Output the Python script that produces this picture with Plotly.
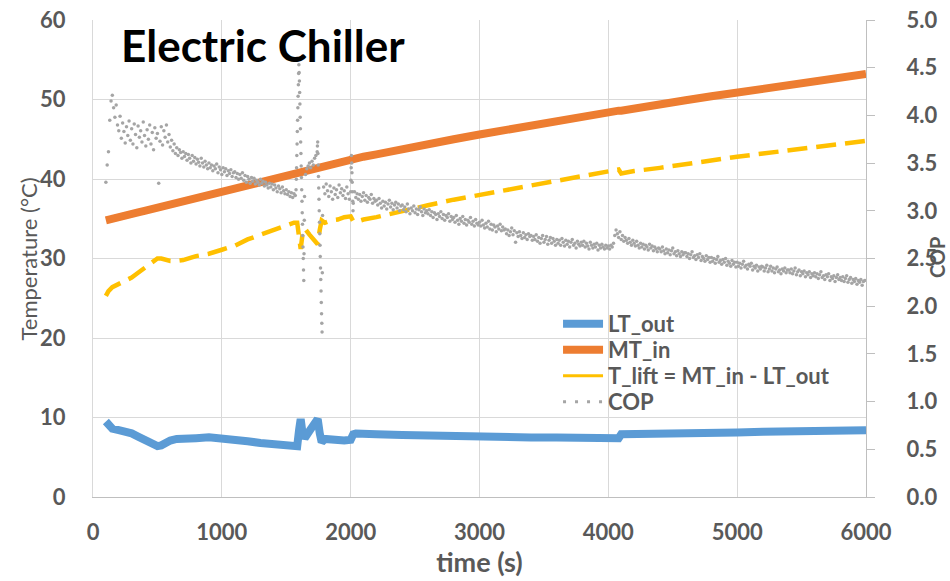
import plotly.graph_objects as go

# ---------------- temperature logs (time in s, temperature in °C) ----------------
t_temp = [100, 120, 150, 200, 250, 300, 350, 400, 450, 500,
          530, 560, 600, 650, 700, 800, 900, 1000,
          1100, 1200, 1300, 1400, 1500, 1560, 1585, 1600, 1612, 1625,
          1643, 1680, 1720, 1744, 1760, 1775,
          1800, 1850, 1900, 1950, 2000, 2020, 2040, 2100, 2200, 2400,
          2600, 2800, 3000, 3200, 3400, 3600, 3800, 4000, 4080, 4100,
          4200, 4400, 4600, 4800, 5000, 5200, 5400, 5600, 5800, 6000]

mt_in = [34.8, 34.9, 35.0, 35.2, 35.4, 35.6, 35.8, 36.0, 36.2, 36.4,
         36.5, 36.7, 36.8, 37.0, 37.2, 37.7, 38.1, 38.5,
         38.9, 39.4, 39.8, 40.2, 40.6, 40.8, 40.9, 41.0, 41.0, 41.1,
         41.2, 41.3, 41.5, 41.6, 41.6, 41.7,
         41.8, 42.0, 42.1, 42.3, 42.5, 42.6, 42.6, 42.8, 43.1, 43.8,
         44.4, 45.0, 45.6, 46.2, 46.7, 47.3, 47.8, 48.4, 48.6, 48.6,
         48.9, 49.4, 49.9, 50.4, 50.9, 51.4, 51.8, 52.3, 52.7, 53.2]

lt_out = [9.5, 9.0, 8.6, 8.4, 8.3, 8.0, 7.6, 7.2, 6.8, 6.4,
          6.5, 6.8, 7.1, 7.3, 7.4, 7.4, 7.5, 7.4,
          7.3, 7.0, 6.8, 6.6, 6.4, 6.3, 6.4, 8.5, 9.8, 8.2,
          7.4, 8.3, 9.3, 9.8, 8.0, 6.9,
          7.3, 7.2, 7.2, 7.1, 7.2, 7.9, 8.0, 7.9, 7.9, 7.8,
          7.7, 7.6, 7.6, 7.6, 7.5, 7.5, 7.4, 7.4, 7.4, 7.9,
          7.9, 8.0, 8.0, 8.1, 8.1, 8.2, 8.2, 8.3, 8.3, 8.4]

# temperature lift between the two circuits
t_lift = [round(m - l, 2) for m, l in zip(mt_in, lt_out)]

# ---------------- COP samples ----------------
cop_a = [  # 100 .. 1570 s, every 10 s
    3.30, 3.48, 3.62, 3.95, 4.15, 4.21, 4.08, 3.98, 4.11, 3.90, 3.84, 3.99, 3.76, 3.92, 3.83, 3.71, 3.88, 3.79, 3.94, 3.74,
    3.86, 3.70, 3.91, 3.80, 3.66, 3.89, 3.77, 3.84, 3.72, 3.93, 3.79, 3.68, 3.85, 3.75, 3.90, 3.70, 3.82, 3.64, 3.87, 3.76,
    3.81, 3.29, 3.73, 3.88, 3.69, 3.84, 3.77, 3.90, 3.72, 3.80, 3.67, 3.74, 3.63, 3.70, 3.60, 3.66, 3.58, 3.64, 3.61, 3.55,
    3.62, 3.57, 3.60, 3.53, 3.59, 3.55, 3.50, 3.58, 3.52, 3.56, 3.49, 3.54, 3.51, 3.47, 3.55, 3.50, 3.46, 3.52, 3.48, 3.44,
    3.50, 3.45, 3.48, 3.42, 3.47, 3.44, 3.49, 3.40, 3.46, 3.43, 3.38, 3.45, 3.41, 3.44, 3.37, 3.42, 3.39, 3.43, 3.36, 3.40,
    3.41, 3.35, 3.39, 3.33, 3.38, 3.34, 3.40, 3.32, 3.37, 3.30, 3.36, 3.33, 3.29, 3.35, 3.31, 3.34, 3.28, 3.32, 3.30, 3.27,
    3.33, 3.29, 3.31, 3.26, 3.30, 3.27, 3.24, 3.29, 3.25, 3.28, 3.22, 3.27, 3.24, 3.20, 3.26, 3.23, 3.19, 3.25, 3.21, 3.18,
    3.22, 3.17, 3.20, 3.15, 3.19, 3.14, 3.18, 3.16,
]
cop_spike1 = [  # 1576 .. 1642 s, every 2 s
    3.22, 3.33, 3.45, 3.58, 3.70, 3.83, 3.95, 4.08, 4.20, 4.32, 4.44, 4.53,
    4.45, 4.36, 4.24, 4.12, 3.98, 3.86, 3.72, 3.60, 3.47, 3.35, 3.22, 3.10, 2.98, 2.86, 2.74, 2.62, 2.50, 2.38, 2.27,
    2.55, 2.90, 3.15,
]
cop_b = [  # 1650 .. 1740 s, every 10 s
    3.38, 3.44, 3.47, 3.50, 3.45, 3.52, 3.48, 3.55, 3.58, 3.62,
]
cop_spike2 = [  # 1742 .. 1782 s, every 2 s
    3.68, 3.72,
    3.60, 3.48, 3.36, 3.24, 3.12, 3.00, 2.88, 2.76, 2.64, 2.52, 2.40, 2.28, 2.16, 2.04, 1.92, 1.82, 1.73,
    2.35, 2.95,
]
cop_c = [  # 1790 .. 1990 s, every 10 s
    3.25, 3.18, 3.28, 3.21, 3.15, 3.26, 3.20, 3.12, 3.24, 3.17, 3.22, 3.14, 3.27, 3.19, 3.23, 3.16, 3.21, 3.13, 3.25, 3.18,
    3.12,
]
cop_spike3 = [  # 2000 .. 2020 s, every 2 s
    3.20, 3.32, 3.45, 3.58, 3.50, 3.40, 3.30, 3.20, 3.10, 3.00, 3.08,
]
cop_d = [  # 2030 .. 5990 s, every 10 s
    3.20, 3.14, 3.18, 3.12, 3.17, 3.10, 3.15, 3.19, 3.11, 3.16, 3.09, 3.14, 3.12, 3.17, 3.08, 3.13, 3.10,
    3.11, 3.06, 3.13, 3.08, 3.03, 3.10, 3.05, 3.09, 3.02, 3.07, 3.11, 3.04, 3.08, 3.01, 3.06, 3.09, 3.03, 3.07, 3.00, 3.05,
    3.06, 3.01, 3.04, 2.99, 3.07, 3.02, 2.97, 3.03, 3.00, 3.05, 2.98, 3.02, 2.96, 3.01, 3.04, 2.99, 2.95, 3.02, 2.98, 3.00,
    2.97, 3.01, 2.95, 2.99, 2.93, 2.98, 2.96, 2.91, 2.97, 2.94, 2.99, 2.92, 2.96, 2.90, 2.95, 2.93, 2.97, 2.89, 2.94, 2.91,
    2.93, 2.88, 2.95, 2.90, 2.86, 2.92, 2.89, 2.94, 2.87, 2.91, 2.85, 2.90, 2.88, 2.93, 2.86, 2.89, 2.84, 2.91, 2.87, 2.85,
    2.88, 2.84, 2.90, 2.85, 2.82, 2.87, 2.83, 2.89, 2.81, 2.86, 2.80, 2.85, 2.83, 2.78, 2.84, 2.81, 2.86, 2.79, 2.83, 2.80,
    2.81, 2.76, 2.80, 2.74, 2.78, 2.82, 2.75, 2.79, 2.67, 2.77, 2.73, 2.78, 2.74, 2.71, 2.77, 2.72, 2.75, 2.70, 2.76, 2.73,
    2.74, 2.69, 2.73, 2.70, 2.75, 2.68, 2.72, 2.66, 2.71, 2.74, 2.67, 2.70, 2.73, 2.65, 2.69, 2.72, 2.66, 2.71, 2.68, 2.64,
    2.70, 2.66, 2.69, 2.64, 2.71, 2.67, 2.63, 2.69, 2.65, 2.68, 2.62, 2.67, 2.70, 2.64, 2.66, 2.61, 2.68, 2.65, 2.63, 2.67,
    2.64, 2.68, 2.62, 2.66, 2.63, 2.60, 2.67, 2.64, 2.61, 2.65, 2.62, 2.66, 2.59, 2.64, 2.61, 2.65, 2.62, 2.60, 2.64, 2.61,
    2.63, 2.60, 2.64, 2.62, 2.66, 2.74, 2.80, 2.76, 2.72, 2.78, 2.70, 2.74, 2.68, 2.72, 2.69, 2.66, 2.71, 2.67, 2.64, 2.69,
    2.66, 2.63, 2.68, 2.64, 2.61, 2.66, 2.62, 2.65, 2.60, 2.64, 2.62, 2.59, 2.65, 2.61, 2.63, 2.58, 2.62, 2.60, 2.57, 2.61,
    2.60, 2.57, 2.62, 2.58, 2.55, 2.60, 2.56, 2.59, 2.54, 2.58, 2.61, 2.55, 2.57, 2.53, 2.58, 2.55, 2.52, 2.57, 2.54, 2.56,
    2.56, 2.52, 2.55, 2.50, 2.54, 2.57, 2.51, 2.53, 2.49, 2.54, 2.51, 2.55, 2.48, 2.52, 2.50, 2.47, 2.53, 2.49, 2.51, 2.46,
    2.51, 2.47, 2.50, 2.45, 2.49, 2.52, 2.46, 2.48, 2.44, 2.49, 2.46, 2.50, 2.43, 2.47, 2.45, 2.42, 2.48, 2.44, 2.46, 2.41,
    2.46, 2.42, 2.45, 2.40, 2.44, 2.47, 2.41, 2.43, 2.39, 2.44, 2.42, 2.45, 2.38, 2.42, 2.40, 2.43, 2.37, 2.41, 2.39, 2.42,
    2.41, 2.37, 2.40, 2.43, 2.36, 2.39, 2.42, 2.37, 2.40, 2.35, 2.39, 2.41, 2.36, 2.38, 2.34, 2.39, 2.37, 2.40, 2.35, 2.38,
    2.38, 2.35, 2.39, 2.34, 2.37, 2.40, 2.33, 2.36, 2.38, 2.32, 2.36, 2.34, 2.37, 2.31, 2.35, 2.33, 2.36, 2.30, 2.34, 2.32,
    2.35, 2.31, 2.34, 2.29, 2.33, 2.36, 2.30, 2.32, 2.28, 2.33, 2.31, 2.34, 2.27, 2.31, 2.29, 2.32, 2.26, 2.30, 2.33, 2.28,
    2.30, 2.27, 2.31, 2.26, 2.29, 2.32, 2.25, 2.28, 2.30, 2.24, 2.28, 2.26, 2.29, 2.23, 2.27, 2.25, 2.28, 2.22, 2.26, 2.27,
]

cop_blocks = [
    (range(100, 1571, 10), cop_a),
    (range(1576, 1643, 2), cop_spike1),
    (range(1650, 1741, 10), cop_b),
    (range(1742, 1783, 2), cop_spike2),
    (range(1790, 1991, 10), cop_c),
    (range(2000, 2021, 2), cop_spike3),
    (range(2030, 5991, 10), cop_d),
]
cop_t, cop_v = [], []
for times, vals in cop_blocks:
    if len(times) != len(vals):
        raise ValueError(f"COP block starting at {times[0]} s: {len(times)} times, {len(vals)} values")
    cop_t.extend(times)
    cop_v.extend(vals)

# ---------------- axis ticks ----------------
time_ticks = [0, 1000, 2000, 3000, 4000, 5000, 6000]
temp_ticks = [0, 10, 20, 30, 40, 50, 60]
cop_ticks = [0.0, 0.5, 1.0, 1.5, 2.0, 2.5, 3.0, 3.5, 4.0, 4.5, 5.0]

BLUE = "#5B9BD5"
ORANGE = "#ED7D31"
GOLD = "#FFC000"
GREY = "#A5A5A5"
TXT = "#595959"
GRID = "#D9D9D9"
AXIS = "#BFBFBF"
FONT = "Lato"

TICK_FONT = dict(family=FONT, size=22, color=TXT, weight="bold")
LEGEND_FONT = dict(family=FONT, size=22, color=TXT, weight="bold")

fig = go.Figure()

fig.add_trace(go.Scatter(
    x=t_temp, y=lt_out, name="LT_out", mode="lines",
    line=dict(color=BLUE, width=8), legend="legend",
))
fig.add_trace(go.Scatter(
    x=t_temp, y=mt_in, name="MT_in", mode="lines",
    line=dict(color=ORANGE, width=8), legend="legend2",
))
fig.add_trace(go.Scatter(
    x=t_temp, y=t_lift, name="T_lift", mode="lines",
    line=dict(color=GOLD, width=4.5, dash="20px,9px"),
    showlegend=False, legendgroup="lift",
))
fig.add_trace(go.Scatter(
    x=cop_t, y=cop_v, name="COP", mode="markers", yaxis="y2",
    marker=dict(color=GREY, size=3.5),
    showlegend=False, legendgroup="cop",
))
# legend keys for the dashed lift line and the COP dots
fig.add_trace(go.Scatter(
    x=[None], y=[None], name="T_lift = MT_in - LT_out", mode="lines",
    line=dict(color=GOLD, width=3), legendgroup="lift", legend="legend3",
))
fig.add_trace(go.Scatter(
    x=[None], y=[None], name="COP", mode="lines", yaxis="y2",
    line=dict(color=GREY, width=3, dash="3px,9px"), legendgroup="cop", legend="legend4",
))

# chart heading inside the plot area
fig.add_annotation(
    text="<b>Electric Chiller</b>", xref="paper", yref="paper",
    x=0.034, y=0.948, xanchor="left", yanchor="middle", showarrow=False,
    font=dict(family=FONT, size=44, color="#000000"),
)
# vertical axis titles
fig.add_annotation(
    text="Temperature (°C)", xref="paper", yref="paper",
    x=-0.0828, y=0.5, xanchor="center", yanchor="middle", textangle=-90, showarrow=False,
    font=dict(family=FONT, size=22, color=TXT),
)
fig.add_annotation(
    text="<b>COP</b>", xref="paper", yref="paper",
    x=1.0919, y=0.501, xanchor="center", yanchor="middle", textangle=-90, showarrow=False,
    font=dict(family=FONT, size=20, color=TXT),
)


def legend_row(y):
    return dict(
        x=0.6016, y=y, xanchor="left", yanchor="middle",
        bgcolor="rgba(0,0,0,0)", borderwidth=0,
        font=LEGEND_FONT, itemwidth=40,
    )


fig.update_layout(
    width=950, height=581,
    margin=dict(l=93, r=84, t=20, b=84),
    paper_bgcolor="white", plot_bgcolor="white",
    font=dict(family=FONT, color=TXT),
    xaxis=dict(
        range=[0, 6000], tickvals=time_ticks, showgrid=True, gridcolor=GRID, gridwidth=1,
        zeroline=False, showline=True, linecolor=AXIS, linewidth=1, automargin=False,
        tickfont=TICK_FONT, ticklabelstandoff=16,
        title=dict(text="time (s)", font=dict(family=FONT, size=27, color=TXT, weight="bold"), standoff=2),
    ),
    yaxis=dict(
        range=[0, 60], tickvals=temp_ticks, showgrid=True, gridcolor=GRID, gridwidth=1,
        zeroline=False, showline=True, linecolor=GRID, linewidth=1, automargin=False,
        tickfont=TICK_FONT, ticklabelstandoff=22,
    ),
    yaxis2=dict(
        range=[0, 5], tickvals=cop_ticks, tickformat=".1f", overlaying="y", side="right",
        showgrid=False, zeroline=False, showline=True, linecolor=AXIS, linewidth=1, automargin=False,
        ticks="outside", ticklen=8, tickcolor=AXIS,
        tickfont=TICK_FONT, ticklabelstandoff=27,
    ),
    legend=legend_row(0.3627),
    legend2=legend_row(0.3082),
    legend3=legend_row(0.2537),
    legend4=legend_row(0.1992),
    showlegend=True,
)

fig.write_html("out.html")
